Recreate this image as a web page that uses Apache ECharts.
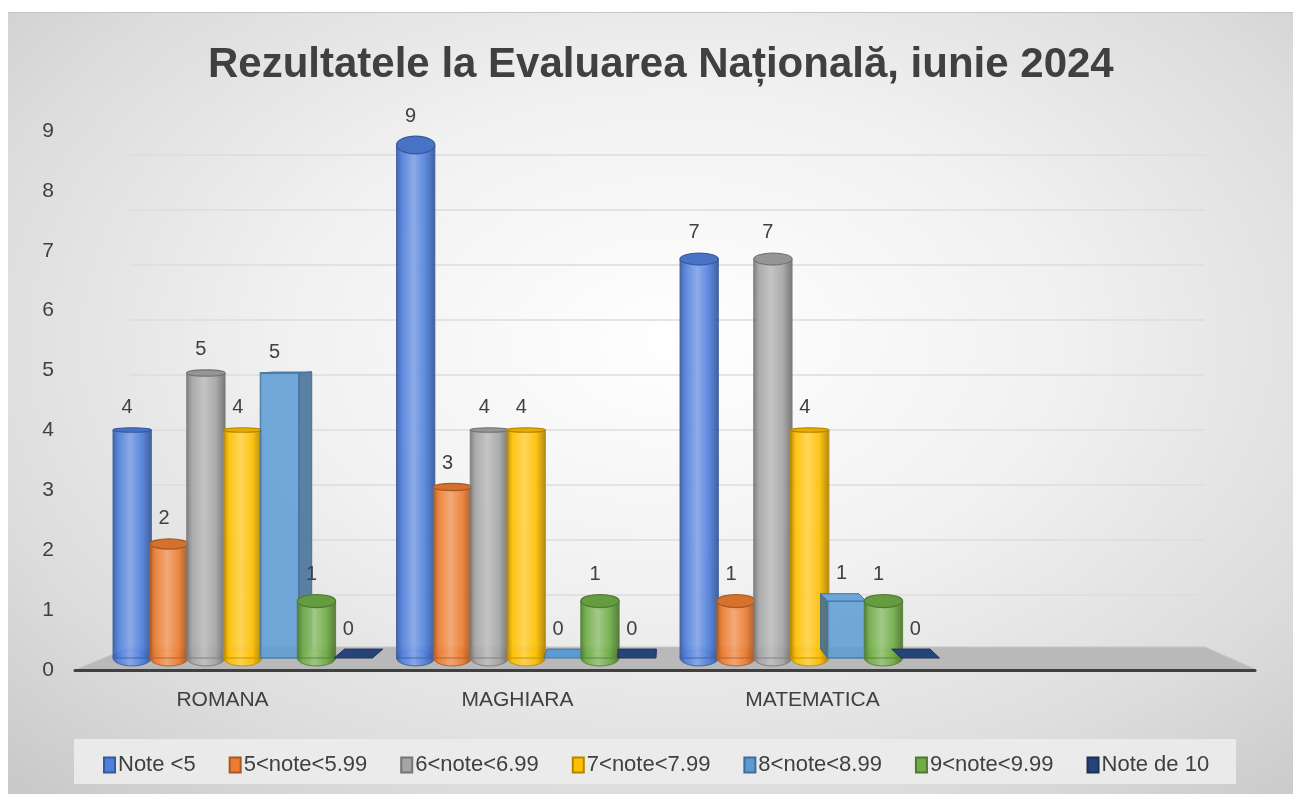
<!DOCTYPE html>
<html>
<head>
<meta charset="utf-8">
<style>
    html, body { margin: 0; padding: 0; background: #ffffff; }
    #bg {
        position: absolute; left: 8px; top: 12px; width: 1285px; height: 782px;
        background: radial-gradient(ellipse 75% 80% at 52% 42%, #ffffff 0%, #f1f1f1 40%, #dcdcdc 75%, #c8c8c8 100%);
        border-top: 1px solid #c4c4c4;
    }
    #echart { position: absolute; left: 0; top: 0; width: 1293px; height: 794px; }
</style>
</head>
<body>
<div id="bg"></div>
<div id="echart"></div>
<script src="https://cdn.jsdelivr.net/npm/echarts@6/dist/echarts.min.js"></script>
<script>
    // date grafic
    var categories = ['ROMANA', 'MAGHIARA', 'MATEMATICA', ''];
    var seriesNames = ['Note <5', '5<note<5.99', '6<note<6.99', '7<note<7.99', '8<note<8.99', '9<note<9.99', 'Note de 10'];
    var noteSub5 = [4, 9, 7];
    var note5_6 = [2, 3, 1];
    var note6_7 = [5, 4, 7];
    var note7_8 = [4, 4, 4];
    var note8_9 = [5, 0, 1];
    var note9_10 = [1, 1, 1];
    var note10 = [0, 0, 0];
    var yMax = 9;

    var values = [noteSub5, note5_6, note6_7, note7_8, note8_9, note9_10, note10];
    var colors = ['#4f7fdc', '#ed7d31', '#a5a5a5', '#ffc000', '#5b9bd5', '#70ad47', '#264478'];
    var shapes = ['cyl', 'cyl', 'cyl', 'cyl', 'box', 'cyl', 'box'];

    var FONT = "'Liberation Sans', Arial, sans-serif";
    var TXT = '#404040';
    var VX = 650; // punct de fuga

    function mix(hex, target, t) {
        var a = parseInt(hex.slice(1), 16);
        var r = (a >> 16) & 255, g = (a >> 8) & 255, b = a & 255;
        var tv = target === 'w' ? 255 : 0;
        r = Math.round(r + (tv - r) * t); g = Math.round(g + (tv - g) * t); b = Math.round(b + (tv - b) * t);
        return 'rgb(' + r + ',' + g + ',' + b + ')';
    }

    function bodyGrad(c) {
        return new echarts.graphic.LinearGradient(0, 0, 1, 0, [
            {offset: 0, color: mix(c, 'k', 0.3)},
            {offset: 0.15, color: c},
            {offset: 0.45, color: mix(c, 'w', 0.3)},
            {offset: 0.75, color: c},
            {offset: 1, color: mix(c, 'k', 0.35)}
        ]);
    }

    function makeRender(s) {
        var c = colors[s];
        return function (params, api) {
            var cat = api.value(0), v = api.value(1);
            var base = api.coord([cat, 0]);
            var top = api.coord([cat, v]);
            var band = api.size([1, 0])[0];
            var step = band * 0.13;
            var w = step * 1.04;
            var cx = base[0] + (s - 3) * step;
            var x0 = cx - w / 2;
            var by = base[1], ty = top[1];
            var kids = [];
            var labY;
            if (shapes[s] === 'cyl') {
                var ryT = Math.max(2, Math.abs(ty - 420) * 0.025 + 2);
                var ryB = Math.max(2, Math.abs(by - 420) * 0.025 + 2);
                kids.push({type: 'ellipse', shape: {cx: cx, cy: by, rx: w / 2, ry: ryB},
                    style: {fill: bodyGrad(c), stroke: mix(c, 'k', 0.25), lineWidth: 1, opacity: 0.92}});
                kids.push({type: 'rect', shape: {x: x0, y: ty, width: w, height: by - ty},
                    style: {fill: bodyGrad(c), stroke: mix(c, 'k', 0.25), lineWidth: 1, opacity: 0.92}});
                kids.push({type: 'ellipse', shape: {cx: cx, cy: ty, rx: w / 2, ry: ryT},
                    style: {fill: mix(c, 'k', 0.1), stroke: mix(c, 'k', 0.3), lineWidth: 1.2}});
                labY = ty - ryT - 10;
            } else {
                var dx = (VX - cx) * 0.035;
                var dyT = -Math.max(1, (ty - 340) * 0.028);
                var dyB = -Math.max(1, (by - 340) * 0.028);
                if (by - ty > 0.5) {
                    // fata laterala
                    var sx = dx > 0 ? x0 + w : x0;
                    kids.push({type: 'polygon', shape: {points: [[sx, by], [sx, ty], [sx + dx, ty + dyT], [sx + dx, by + dyB]]},
                        style: {fill: mix(c, 'k', 0.3), stroke: mix(c, 'k', 0.35), lineWidth: 1, opacity: 0.85}});
                    kids.push({type: 'rect', shape: {x: x0, y: ty, width: w, height: by - ty},
                        style: {fill: c, stroke: mix(c, 'k', 0.25), lineWidth: 1.5, opacity: 0.85}});
                }
                kids.push({type: 'polygon', shape: {points: [[x0, ty], [x0 + w, ty], [x0 + w + dx, ty + dyT], [x0 + dx, ty + dyT]]},
                    style: {fill: by - ty > 0.5 ? mix(c, 'w', 0.1) : c, stroke: mix(c, 'k', 0.25), lineWidth: 1}});
                labY = ty + dyT - 10;
            }
            kids.push({type: 'text', style: {text: String(v), x: cx - 5, y: labY, align: 'center', verticalAlign: 'bottom',
                fontSize: 20, fontFamily: FONT, fill: TXT}});
            return {type: 'group', children: kids};
        };
    }

    var series = [];
    for (var s = 0; s < values.length; s++) {
        series.push({
            name: seriesNames[s],
            type: 'custom',
            xAxisIndex: 2,
            yAxisIndex: 2,
            clip: false,
            z: 3,
            itemStyle: {color: colors[s], borderColor: mix(colors[s], 'k', 0.3), borderWidth: 1.5},
            encode: {x: 0, y: 1},
            renderItem: makeRender(s),
            data: values[s].map(function (val, i) { return [i, val]; })
        });
    }

    var app = echarts.init(document.getElementById('echart'));
    var option = {
        backgroundColor: 'transparent',
        animation: false,
        title: {
            text: 'Rezultatele la Evaluarea Națională, iunie 2024',
            left: 203,
            top: 39,
            textStyle: {fontSize: 42, fontWeight: 'bold', color: TXT, fontFamily: FONT}
        },
        legend: {
            data: seriesNames,
            left: 98,
            top: 749,
            itemWidth: 11,
            itemHeight: 15,
            itemGap: 33,
            icon: 'rect',
            textStyle: {fontSize: 22, color: TXT, fontFamily: FONT, padding: [0, 0, 0, -2]}
        },
        graphic: [
            {type: 'rect', z: -10, shape: {x: 74, y: 739, width: 1162, height: 45},
                style: {fill: 'rgba(236,236,236,0.9)'}},
            // podeaua 3D
            {type: 'polygon', z: 1, shape: {points: [[75, 670], [1257, 670], [1205, 647], [130, 647]]},
                style: {fill: '#b9b9b9', stroke: '#c6c6c6', lineWidth: 1}}
        ],
        grid: [
            {left: 75, right: 38, top: 131, bottom: 124},   // axa din fata
            {left: 130, right: 88, top: 155, bottom: 144},  // peretele din spate
            {left: 101, right: 58, top: 145, bottom: 136}   // cilindri
        ],
        xAxis: [
            {type: 'category', gridIndex: 0, data: categories, z: 5,
                axisLine: {lineStyle: {color: '#404040', width: 3}},
                axisTick: {show: false},
                axisLabel: {fontSize: 21, color: TXT, fontFamily: FONT, margin: 20}},
            {type: 'category', gridIndex: 1, data: categories, show: false},
            {type: 'category', gridIndex: 2, data: categories, show: false}
        ],
        yAxis: [
            {type: 'value', gridIndex: 0, min: 0, max: yMax, interval: 1,
                axisLine: {show: false}, axisTick: {show: false}, splitLine: {show: false},
                axisLabel: {fontSize: 21, color: TXT, fontFamily: FONT, margin: 21}},
            {type: 'value', gridIndex: 1, min: 0, max: yMax, interval: 1,
                axisLine: {show: false}, axisTick: {show: false}, axisLabel: {show: false},
                splitLine: {lineStyle: {color: '#dcdcdc', width: 1.5}}},
            {type: 'value', gridIndex: 2, min: 0, max: yMax, interval: 1, show: false, splitLine: {show: false}}
        ],
        series: series
    };
    app.setOption(option);
</script>
</body>
</html>
